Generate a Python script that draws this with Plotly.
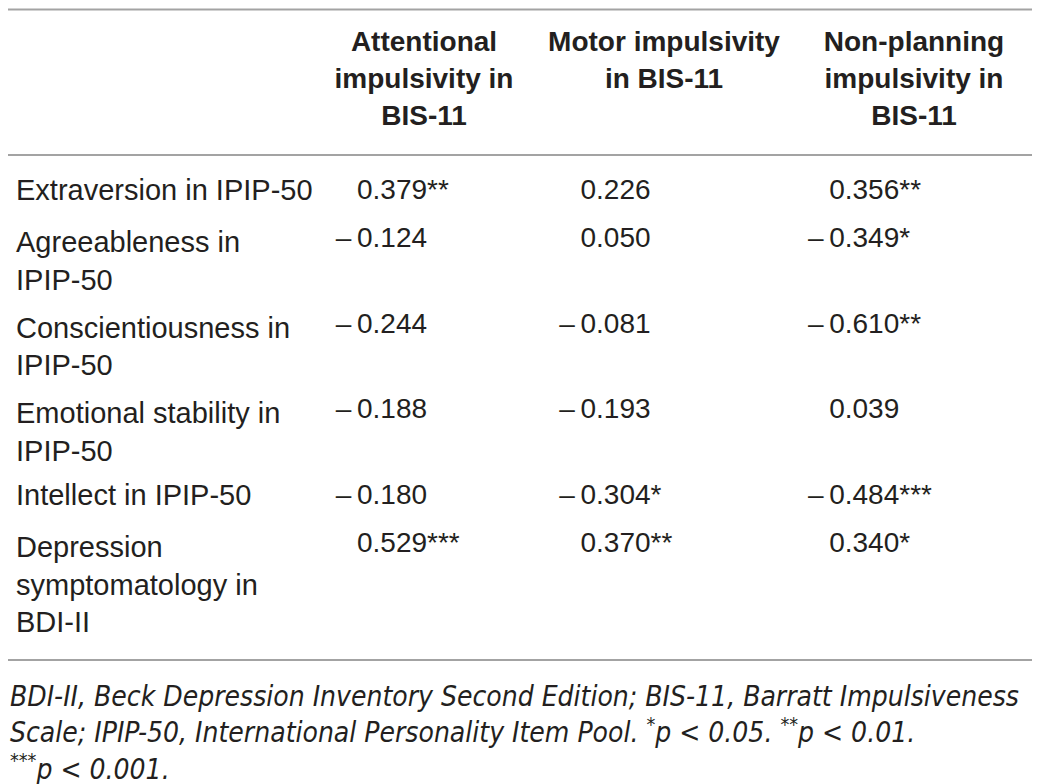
import plotly.graph_objects as go

# table contents
row_labels = ["Extraversion in IPIP-50",
              "Agreeableness in<br>IPIP-50",
              "Conscientiousness in<br>IPIP-50",
              "Emotional stability in<br>IPIP-50",
              "Intellect in IPIP-50",
              "Depression<br>symptomatology in<br>BDI-II"]
# header text, one list per column (three header lines)
head_blank = ["", "", "", ""]
head_attentional = ["Attentional", "impulsivity in", "BIS-11", ""]
head_motor = ["Motor impulsivity", "in BIS-11", "", ""]
head_nonplanning = ["Non-planning", "impulsivity in", "BIS-11", ""]

attentional = [0.379, -0.124, -0.244, -0.188, -0.180, 0.529]
attentional_sig = ["**", "", "", "", "", "***"]
motor = [0.226, 0.050, -0.081, -0.193, -0.304, 0.370]
motor_sig = ["", "", "", "", "*", "**"]
nonplanning = [0.356, -0.349, -0.610, 0.039, -0.484, 0.340]
nonplanning_sig = ["**", "*", "**", "", "***", "*"]

footnote = ("<i>BDI-II, Beck Depression Inventory Second Edition; BIS-11, Barratt Impulsiveness<br>"
            "Scale; IPIP-50, International Personality Item Pool. <sup>*</sup>p &lt; 0.05. "
            "<sup>**</sup>p &lt; 0.01.<br><sup>***</sup>p &lt; 0.001.</i>")

NB = "\u00a0"
THIN = "\u2009"


def nobreak(lst):
    # single-line cells: no plain spaces so the table keeps the fixed row height
    return [s.replace(" ", NB) if "<br>" not in s else s for s in lst]


def fmt(vals, sig, lead):
    out = []
    for v, s in zip(vals, sig):
        sign = "\u2013" + THIN if v < 0 else "\u2007" + THIN
        out.append(NB * lead + sign + f"{abs(v):.3f}" + s)
    return out


TXT = "#231f20"
RULE = "#a3a3a3"

fig = go.Figure(go.Table(
    columnwidth=[312, 208, 272, 228],
    header=dict(values=[head_blank, nobreak(head_attentional),
                        nobreak(head_motor), nobreak(head_nonplanning)],
                align=["left", "center", "center", "center"],
                fill_color="white",
                line_color="white",
                height=37,
                font=dict(family="Liberation Sans", size=28, color=TXT, weight="bold")),
    cells=dict(values=[nobreak(row_labels), fmt(attentional, attentional_sig, 1),
                       fmt(motor, motor_sig, 3), fmt(nonplanning, nonplanning_sig, 0)],
               align="left",
               fill_color="white",
               line_color="white",
               height=48,
               font=dict(family="Liberation Sans", size=[29, 28, 28, 28], color=TXT)),
    domain=dict(x=[0, 1020 / 1040], y=[0, 1 - 14 / 784]),
))

# horizontal rules of the table
for yy in [1.5, 147, 652]:
    fig.add_shape(type="line", xref="paper", yref="paper", x0=0, x1=1027 / 1040,
                  y0=1 - yy / 784, y1=1 - yy / 784, line=dict(color=RULE, width=2))

fig.add_annotation(text=footnote, xref="paper", yref="paper", x=0.0, y=1 - 670 / 784,
                   xanchor="left", yanchor="top", align="left", showarrow=False,
                   font=dict(family="Liberation Sans Narrow, DejaVu Sans Condensed, Liberation Sans",
                             size=28, color=TXT))

fig.update_layout(width=1040, height=784, margin=dict(l=0, r=0, t=0, b=0),
                  paper_bgcolor="white", plot_bgcolor="white")
fig.write_html("out.html")
